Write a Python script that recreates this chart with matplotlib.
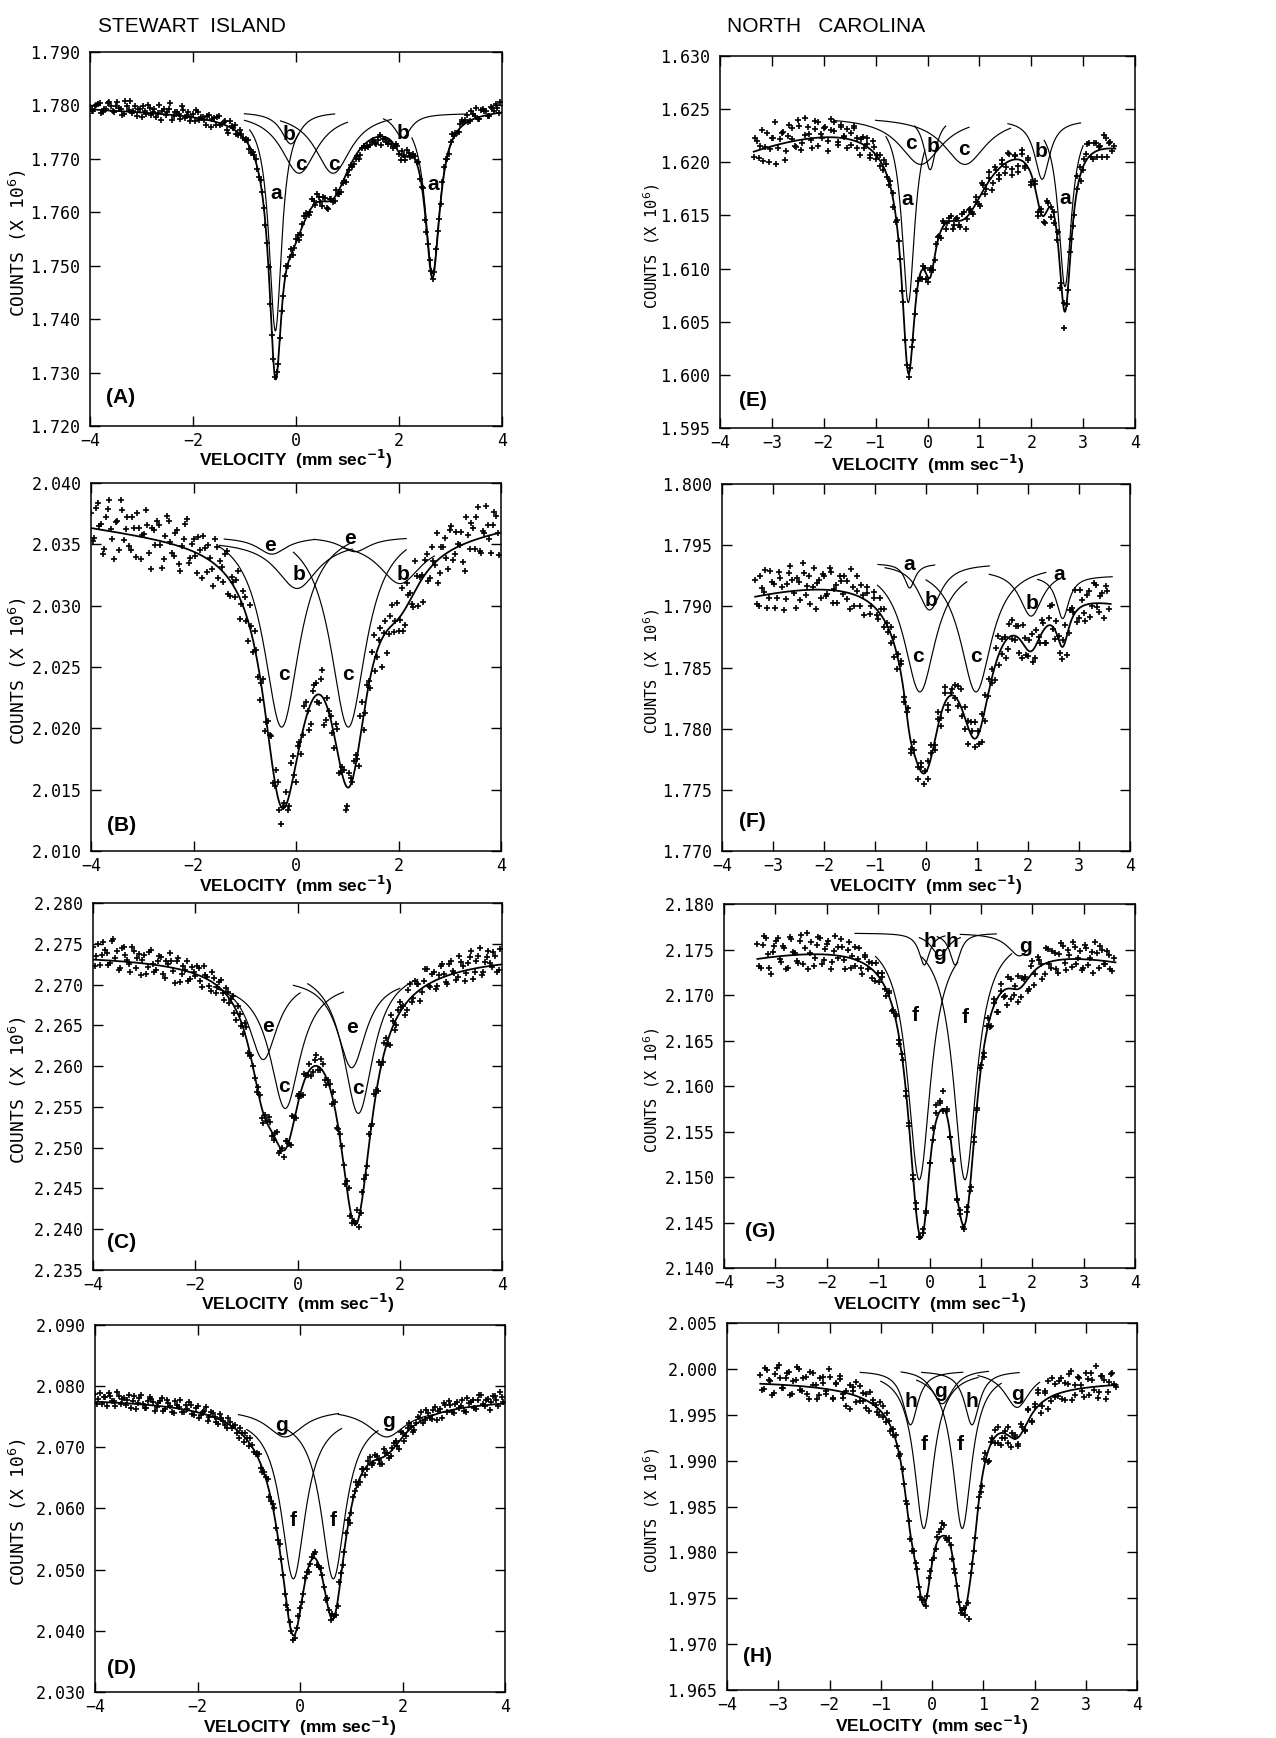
import numpy as np
import matplotlib
matplotlib.use("Agg")
import matplotlib.pyplot as plt

W, H = 1276, 1738
DPI = 100

SANS = ["Liberation Sans", "DejaVu Sans"]
MONO = ["DejaVu Sans Mono"]

# ---------------------------------------------------------------------------
# Spectra. Each component: (label, centre, depth, fwhm, drawn top, drawn from, drawn to)
# Components with an empty label only enter the envelope (broad background).
# Counts are in units of 10^6; residuals in units of 1e-4 (x 10^6 counts),
# one list per half of the folded spectrum.
# ---------------------------------------------------------------------------

V_LEFT = (-4.0, 4.0)
V_RIGHT = (-3.35, 3.62)

XTICKS_LEFT = [-4, -2, 0, 2, 4]
XTICKS_RIGHT = [-4, -3, -2, -1, 0, 1, 2, 3, 4]

# (A) Stewart Island
YTICKS_A = [1.720, 1.730, 1.740, 1.750, 1.760, 1.770, 1.780, 1.790]
BASE_A = (1.7788, 0.0, 0.00005)
COMPS_A = [
    ("a", -0.40, 0.0410, 0.30, 1.7788, -0.90, 0.05),
    ("b", -0.10, 0.0060, 0.45, 1.7788, -1.00, 0.75),
    ("c", 0.06, 0.0115, 0.85, 1.7788, -1.00, 1.00),
    ("c", 0.72, 0.0115, 0.85, 1.7788, -0.30, 1.85),
    ("b", 2.07, 0.0045, 0.40, 1.7785, 1.70, 3.30),
    ("a", 2.65, 0.0300, 0.34, 1.7785, 2.25, 3.05),
]
RESID_A1 = [
    5, -2, 9, 13, -4, 3, 16, -1, 10, 6, -7, 19, 4, -3, 12, 7, -9, 3, 15, -4,
    8, 1, -11, 10, 5, 22, -2, 7, -6, 11, 2, -8, 6, 14, -3, 4, -10, 9, 3, -5,
    13, -1, 8, -13, 5, 10, -4, 2, -2, 7, -7, 3, -3, 6, -1, 4, -5, 5, 9, -2,
    -4, 8, 3, -8, 7, -11, 4, 11, -6, 15, -3, 9, -9, 6, -14, 3, -7, -3, -11, -5,
    -8, -2, -10, -6, -12, -1, -7, -9, -4, -13, 3, -5, -8, -3, -10, 6, -2, 10, -6, 5,
    -1, 7, 13, -4, -18, 4, 8, -3, 9, -8, 12, -5, 6, 3, -2, 8, 5, 15, -1, 10,
    19, -4, 13, 7, -3, 11, 17, -1,
]
RESID_A2 = [
    -3, 7, 11, -6, 2, 14, 8, -2, 17, 4, -5, 10, 21, 1, -8, 6, 13, -3, 9, 2,
    -6, 16, 5, -1, 11, -9, 7, 3, 18, -4, 9, 1, -7, 12, 4, -2, 8, -12, 6, 10,
    -3, 5, -8, 11, 2, -5, 7, -1, 4, -6, 2, 5, -4, 3, -2, 6, -3, 1, -7, 4,
    7, -5, 10, -2, 6, -9, 12, 3, -5, 8, 16, -2, 7, -12, 4, -6, 9, -9, -2, -14,
    -4, -11, -6, -15, -3, -9, -12, -5, -10, -7, -16, -4, -11, -6, -2, 8, -9, 4, 11, -3,
    7, 2, -6, 15, -8, 5, -3, 10, -5, 6, 9, -7, 13, 2, -4, 11, 6, -1, 16, 4,
    -3, 12, 8, -2, 14, 5, 9, 20,
]

# (B) Stewart Island
YTICKS_B = [2.010, 2.015, 2.020, 2.025, 2.030, 2.035, 2.040]
BASE_B = (2.0358, 0.0, 0.00006)
COMPS_B = [
    ("e", -0.47, 0.0014, 0.70, 2.0356, -1.40, 0.35),
    ("e", 1.15, 0.0012, 0.70, 2.0356, 0.35, 2.15),
    ("b", 0.02, 0.0039, 1.00, 2.0353, -1.50, 1.10),
    ("b", 2.03, 0.0035, 1.00, 2.0353, 0.90, 2.70),
    ("c", -0.28, 0.0165, 0.85, 2.0366, -1.50, 1.10),
    ("c", 1.02, 0.0165, 0.85, 2.0366, -0.05, 2.15),
]
RESID_B1 = [
    12, -8, 21, 5, -15, 18, 2, -22, 9, 27, -5, 14, -12, 6, 19, -18, 3, 11, -25, 8,
    16, -3, -14, 22, 1, -9, 13, -20, 7, 24, -6, 10, -16, 4, 17, -11, 2, -19, 15, 6,
    -8, 20, -13, 3, 9, -17, 12, -4, 18, -10, 5, -21, 14, -2, 8, -12, 16, -6, 1, 11,
    -9, 19, -15, 4, -3, 13, -18, 7, 10, -7, 22, -14, 2, -5, 15, -11, 6, -20, 12, -1,
    9, -16, 18, -8, 3, 14, -12, 5, -23, 10, -4, 17, 1, -10, 21, -13, 7, -6, 24, -17,
    4, 12, -9, 16, -2, -19, 8, 13, -14, 20, -5, 2, 11, -22, 6, 15, -7, 26, -12, 3,
    9, -15, 18, 0,
]
RESID_B2 = [
    -10, 17, 3, -20, 11, 25, -6, 8, -14, 19, 4, -9, 15, -17, 7, 2, 23, -12, 9, -4,
    13, -22, 5, 18, -7, 10, -15, 1, 20, -11, 6, -3, 14, -18, 8, 12, -6, 21, -9, 3,
    16, -13, 5, -7, 19, -2, 11, -16, 6, 14, -10, 2, -19, 9, 17, -5, 12, -14, 4, -8,
    20, -3, 7, -12, 15, 1, -17, 10, -6, 13, -21, 8, 3, -11, 18, -4, 9, -15, 6, 11,
    -2, 16, -13, 7, -9, 22, -5, 12, 2, -18, 9, -7, 14, -3, -16, 19, 6, -11, 10, 4,
    -20, 15, -8, 3, 23, -12, 7, -4, 17, -9, 13, 1, -14, 21, -6, 10, 18, -10, 5, 25,
    -3, 8, 14, -18,
]

# (C) Stewart Island
YTICKS_C = [2.235, 2.240, 2.245, 2.250, 2.255, 2.260, 2.265, 2.270, 2.275, 2.280]
BASE_C = (2.2738, 0.0, 0.0)
COMPS_C = [
    ("", 0.80, 0.0040, 3.00, None, None, None),
    ("e", -0.67, 0.0100, 0.68, 2.2708, -1.65, 0.05),
    ("e", 1.06, 0.0110, 0.68, 2.2708, -0.08, 2.00),
    ("c", -0.24, 0.0157, 0.72, 2.2705, -1.55, 0.90),
    ("c", 1.19, 0.0180, 0.72, 2.2722, 0.20, 2.35),
]
RESID_C1 = [
    15, 4, -6, 22, 9, -3, 27, 12, -8, 18, 2, -12, 14, 6, -15, 10, -4, 17, -9, 5,
    11, -14, 3, 8, -18, 13, -5, 1, -11, 7, -2, 9, -13, 4, -7, 12, -10, 6, -3, 8,
    -6, 10, -12, 5, -8, 14, -4, 3, -9, 7, -11, 2, 9, -6, 13, -3, -8, 6, -12, 4,
    11, -5, 8, -2, -10, 7, -4, 12, -7, 3, -13, 9, -1, 6, -9, 15, -6, 2, -11, 8,
    -3, 12, -8, 5, 16, -4, 9, -12, 6, -7, 13, 2, -9, 18, -3, 10, -14, 7, 20, -5,
    11, -8, 15, 4, -10, 17, 1, -6, 12, -13, 9, 22, -4, 14, -9, 6, 18, -2, 11, -7,
]
RESID_C2 = [
    -8, 20, 6, 13, -5, 24, 3, -11, 16, 8, -2, 19, -7, 11, 4, -13, 15, 1, -6, 12,
    -10, 7, 17, -4, 9, -15, 5, 13, -8, 2, 10, -6, 14, 3, -12, 7, -1, 11, -9, 5,
    2, -7, 9, -4, 12, -10, 6, -2, 8, -13, 4, 11, -5, 7, -9, 3, 10, -4, 14, -7,
    5, -11, 2, 8, -6, 13, -3, 9, -8, 4, 11, -12, 6, -2, 10, -7, 3, 16, -5, 9,
    -10, 6, 14, -8, 2, 11, -5, 19, -9, 7, 3, -12, 13, -6, 15, 8, -4, 21, -2, 10,
    -11, 5, 17, -7, 13, 3, -9, 20, 6, -3, 15, -12, 9, 24, -6, 12, 4, 16, -8, 19,
]

# (D) Stewart Island
YTICKS_D = [2.030, 2.040, 2.050, 2.060, 2.070, 2.080, 2.090]
BASE_D = (2.0782, 0.0, 0.0)
COMPS_D = [
    ("", 0.25, 0.0050, 2.50, None, None, None),
    ("g", -0.29, 0.0045, 0.88, 2.0762, -1.20, 0.75),
    ("g", 1.69, 0.0045, 0.88, 2.0762, 0.75, 2.60),
    ("f", -0.13, 0.0269, 0.58, 2.0754, -1.04, 0.81),
    ("f", 0.65, 0.0269, 0.58, 2.0754, -0.27, 1.52),
]
RESID_D1 = [
    12, 5, -4, 9, 16, 2, -6, 11, 7, -3, 14, 4, -8, 10, 1, -5, 13, 6, -2, 8,
    -7, 12, 3, -9, 6, 15, -4, 2, 9, -6, 11, -3, 5, -10, 7, 1, -8, 4, -5, 9,
    -3, 6, -11, 2, 8, -7, 4, -2, 10, -6, 3, -9, 5, -4, 7, -1, -6, 4, -8, 3,
    6, -5, 2, -3, 7, -7, 4, -2, 9, -5, 1, -8, 6, -3, 10, -9, 3, -4, 8, -11,
    5, -6, 9, -2, -10, 4, -7, 3, 8, -12, 6, -4, 11, -8, 2, 7, -5, 13, -3, 9,
    -10, 6, 14, -2, 8, -6, 12, 3, -5, 15, 7, -3, 10, 18, -1, 9, 5, 13, -4, 11,
]
RESID_D2 = [
    -4, 14, 8, -6, 11, 3, 17, -2, 9, 5, -8, 12, 1, 15, -5, 7, 10, -9, 4, 13,
    -3, 6, -7, 11, 2, -5, 8, 14, -4, 6, -9, 3, 12, -2, 7, -6, 10, 1, -8, 5,
    2, -5, 8, -9, 4, 11, -3, 6, -7, 2, 9, -4, 12, -6, 3, -10, 7, 1, -5, 9,
    -2, 6, -8, 3, 11, -4, 5, -9, 2, 8, -6, 12, -3, 7, -10, 4, 9, -7, 3, -5,
    10, -3, 6, -9, 13, 2, -7, 8, -4, 11, -10, 5, 3, -8, 9, 15, -2, 7, -6, 12,
    4, -9, 10, 16, -3, 8, 1, 13, -7, 6, 11, -4, 17, 3, 9, -8, 14, 6, 19, 2,
]

# (E) North Carolina
YTICKS_E = [1.595, 1.600, 1.605, 1.610, 1.615, 1.620, 1.625, 1.630]
BASE_E = (1.6250, 0.0002, -0.00025)
COMPS_E = [
    ("", 0.60, 0.0040, 2.20, None, None, None),
    ("a", -0.37, 0.0175, 0.30, 1.6243, -0.80, -0.05),
    ("c", -0.13, 0.0045, 1.00, 1.6243, -1.80, 0.80),
    ("b", 0.05, 0.0050, 0.28, 1.6243, -0.25, 0.35),
    ("c", 0.72, 0.0045, 1.00, 1.6243, -1.00, 1.60),
    ("b", 2.21, 0.0056, 0.35, 1.6240, 1.55, 2.95),
    ("a", 2.65, 0.0157, 0.30, 1.6240, 2.25, 3.00),
]
RESID_E1 = [
    -5, 9, 3, -12, 14, -2, 7, -18, 5, 11, -8, 16, 2, -6, 13, -3, 20, 4, -9, 8,
    15, -1, 10, -4, 17, 6, -7, 12, 1, 9, -5, 14, 3, -11, 7, 2, -6, 10, -3, 5,
    -4, 8, -2, 3, -6, 4, -1, 5, -3, 2, -5, 1, -8, 3, -4, 6, -2, 4, -7, 2,
    -1, 5, -4, 3, -6, 7, -2, 4, -5, 1, -9, 6, -3, 8, -7, 2, -10, 5, -4, 7,
    -8, 3, -12, 6, -5, 9, -7, 2, -11, 4, -6, 8, -9, 3, -4, -14, 5, -2, 7, -6,
    4, 9, -3, 6, 12, -5, 8, 3, -7, 10, 5, -2,
]
RESID_E2 = [
    12, -7, 18, 1, -14, 8, 22, -3, 10, -16, 6, 13, -5, 19, -10, 4, 11, -2, 16, -8,
    3, 9, -13, 7, 14, -4, 10, 2, -9, 6, 12, -6, 4, -3, 8, -8, 5, 1, -5, 7,
    -2, 4, -6, 3, -1, 6, -4, 2, -7, 5, -2, 3, -5, 8, -3, 4, -1, 6, -6, 3,
    -8, 2, -4, 6, -10, 4, -2, 7, -5, 9, -7, 3, -12, 5, -6, 2, -9, 8, -14, 4,
    -6, 10, -3, 7, -9, 5, -13, 2, -8, 6, 1, -5, 9, -2, -16, 3, 8, -4, 11, -7,
    5, 14, -2, 9, -6, 3, 13, -8, 6, 2,
]

# (F) North Carolina
YTICKS_F = [1.770, 1.775, 1.780, 1.785, 1.790, 1.795, 1.800]
BASE_F = (1.7928, 0.0, -0.00015)
COMPS_F = [
    ("", 0.40, 0.0020, 1.50, None, None, None),
    ("a", -0.32, 0.0020, 0.25, 1.7935, -0.94, 0.17),
    ("b", 0.07, 0.0038, 0.55, 1.7935, -0.80, 1.24),
    ("c", -0.12, 0.0105, 0.75, 1.7935, -0.95, 0.80),
    ("c", 0.98, 0.0105, 0.75, 1.7935, 0.00, 2.35),
    ("b", 2.06, 0.0038, 0.55, 1.7930, 1.24, 2.60),
    ("a", 2.68, 0.0035, 0.30, 1.7925, 2.19, 3.65),
]
RESID_F1 = [
    14, -8, 6, 20, -3, 10, -12, 17, 4, -6, 15, 9, -14, 7, 22, -4, 11, 2, -16, 8,
    13, -5, 18, -10, 5, 12, -2, 9, -13, 6, 16, -7, 3, 11, -9, 7, -4, 13, -6, 2,
    -8, 5, -11, 9, -3, 7, -6, 10, -2, 4, -9, 6, 3, -7, 11, -4, 8, -10, 5, -1,
    12, -6, 9, -13, 4, 14, -8, 7, -11, 10, -5, 13, -9, 6, -14, 11, -3, 8, -12, 15,
    -6, 9, -10, 12, -4, 7, -13, 16, -2, 10, -8, 5, -15, 12, 3, -9, 14, -6, 8, -11,
    17, -3, 6, -12, 10,
]
RESID_F2 = [
    -6, 16, 3, -11, 19, 8, -4, 12, -15, 6, 21, -2, 10, -8, 14, 3, -12, 18, 5, -7,
    11, -3, 15, 1, -10, 8, 13, -5, 20, -9, 4, 10, -13, 7, -2, 12, -7, 5, 9, -4,
    6, -10, 3, 8, -5, 11, -8, 4, -12, 7, 2, -9, 10, -3, 6, -11, 13, -6, 2, 9,
    -4, 15, -10, 5, 11, -7, 3, -14, 12, -2, 8, -11, 16, -5, 4, -9, 13, -3, 10, -13,
    7, -4, 14, -9, 2, 11, -12, 6, 17, -7, 3, -10, 13, -4, 9, 18, -8, 5, -13, 11,
    -2, 15, -7, 8, 14, -4,
]

# (G) North Carolina
YTICKS_G = [2.140, 2.145, 2.150, 2.155, 2.160, 2.165, 2.170, 2.175, 2.180]
BASE_G = (2.1760, 0.0, -0.00015)
COMPS_G = [
    ("f", -0.20, 0.0271, 0.55, 2.1768, -1.05, 0.55),
    ("f", 0.69, 0.0271, 0.55, 2.1768, -0.15, 1.60),
    ("h", -0.10, 0.0035, 0.25, 2.1768, -1.45, 0.30),
    ("g", 0.20, 0.0025, 0.40, 2.1768, -0.20, 0.60),
    ("h", 0.50, 0.0035, 0.25, 2.1768, 0.15, 1.30),
    ("g", 1.75, 0.0025, 0.55, 2.1768, 0.60, 1.90),
]
RESID_G1 = [
    16, -10, 24, 4, -18, 12, 20, -6, 9, -14, 18, 2, -9, 22, 7, -16, 13, -4, 19, -11,
    6, 15, -8, 21, -2, 10, -13, 17, 3, -7, 14, -12, 8, 5, -9, 11, -5, 6, -8, 4,
    -3, 7, -6, 2, -4, 5, -7, 3, -2, 6, -5, 4, -3, 8, 12, 20, 6, -4, 3, -6,
    5, -2, 4, -7, 2, -3, 6, -9, 4, -12, 7, -15, 3, -8, -18, 11, -6, 14, -10, 5,
    -13, 9, -16, 12, 2, -11, 15, -7, 8, -14, 18, -4, 10, -9, 13, 1, -12, 16, -6, 9,
    20, -8, 12, -3, 7, -10,
]
RESID_G2 = [
    -8, 14, 22, -12, 6, 17, -3, 11, -15, 20, 3, -7, 15, -10, 24, 1, -13, 10, 18, -6,
    12, -16, 5, 9, 19, -4, 8, -11, 14, 2, -6, 10, -3, 7, -10, 4, 9, -2, 5, -6,
    3, -4, 6, -2, 4, -5, 8, -3, 2, -6, 5, 10, 16, 9, -2, 4, -3, 7, -5, 2,
    -4, 8, -6, 3, -10, 5, -8, 11, -13, 2, -16, 9, -7, 13, -11, 4, -14, 10, 6, -12,
    14, -5, 8, -15, 17, -2, 11, -9, 6, 15, -12, 4, 19, -6, 9, -10, 13, 2, -14, 8,
    16, -4, 11, -8, 5,
]

# (H) North Carolina
YTICKS_H = [1.965, 1.970, 1.975, 1.980, 1.985, 1.990, 1.995, 2.000, 2.005]
BASE_H = (1.9988, 0.0, 0.0)
COMPS_H = [
    ("", 0.25, 0.0030, 2.00, None, None, None),
    ("h", -0.42, 0.0059, 0.35, 1.9998, -1.40, 0.60),
    ("f", -0.16, 0.0172, 0.45, 1.9998, -1.00, 0.90),
    ("g", 0.20, 0.0038, 0.50, 2.0000, -0.60, 1.10),
    ("f", 0.59, 0.0172, 0.45, 1.9998, -0.30, 1.35),
    ("h", 0.78, 0.0059, 0.35, 1.9998, -0.20, 1.70),
    ("g", 1.66, 0.0040, 0.60, 1.9998, 0.90, 2.10),
]
RESID_H1 = [
    10, -6, 15, 3, -9, 18, 7, -3, 13, -11, 5, 20, -4, 9, -8, 16, 2, -12, 11, 6,
    -5, 14, -9, 8, 17, -2, -14, 10, 4, -7, 12, -3, 7, -10, 5, 2, -6, 8, -4, 3,
    -5, 6, -2, 4, -3, 5, -4, 2, -1, 3, -4, 6, 2, -3, 7, 14, -2, 4, -5, 3,
    -2, 5, -6, -30, 3, -4, 6, -8, 9, -12, 4, 7, -10, -6, 3, -8, 5, 2, -9, 6,
    -4, 11, -7, 3, 14, -11, 8, 19, -5, 12, -2, 16, -9, 7, 21, -6, 13, 4, -10, 9,
    15, -3, -13, 11, 6, -7, 12, 1,
]
RESID_H2 = [
    -7, 17, 4, -12, 11, 21, -3, 8, 14, -9, 6, 19, -5, 10, -13, 16, 3, -8, 12, -2,
    22, -10, 7, 13, -6, 2, -16, 9, 15, -4, 6, -8, 11, 2, -5, 9, -3, 7, -6, 4,
    -2, 5, -4, 3, -6, 2, 4, -3, 6, -1, 3, -5, 5, 9, 12, -2, 3, -4, 5, -2,
    6, -5, 3, -7, 4, -9, 7, -11, 2, -6, 8, -13, -5, 9, -10, 4, -7, 10, -3, 13,
    -8, 6, 17, -4, 10, -12, 20, -2, 14, -7, 9, 18, -11, 5, 12, -3, 16, -8, 8, 22,
    -6, 11, -14, 4, 13, -2,
]

# ---------------------------------------------------------------------------
# Layout: axes boxes in pixels (left, top, right, bottom), label placements
# ---------------------------------------------------------------------------

PANELS = [
    dict(tag="(A)", box=(90, 52, 502, 426), vr=V_LEFT, xt=XTICKS_LEFT, yt=YTICKS_A,
         base=BASE_A, comps=COMPS_A, resid=(RESID_A1, RESID_A2), xlab_dy=33,
         tagpos=(0.04, 0.075),
         letters=[("b", -0.14, 1.7745), ("c", 0.09, 1.7689), ("c", 0.74, 1.7689),
                  ("a", -0.38, 1.7636), ("b", 2.07, 1.7748), ("a", 2.66, 1.7652)]),
    dict(tag="(B)", box=(91, 483, 501, 851), vr=V_LEFT, xt=XTICKS_LEFT, yt=YTICKS_B,
         base=BASE_B, comps=COMPS_B, resid=(RESID_B1, RESID_B2), xlab_dy=34,
         tagpos=(0.04, 0.07),
         letters=[("e", -0.50, 2.0349), ("e", 1.06, 2.0355), ("b", 0.05, 2.0325),
                  ("b", 2.09, 2.0325), ("c", -0.24, 2.0244), ("c", 1.02, 2.0244)]),
    dict(tag="(C)", box=(93, 903, 502, 1270), vr=V_LEFT, xt=XTICKS_LEFT, yt=YTICKS_C,
         base=BASE_C, comps=COMPS_C, resid=(RESID_C1, RESID_C2), xlab_dy=33,
         tagpos=(0.035, 0.075),
         letters=[("e", -0.57, 2.2649), ("e", 1.06, 2.2647), ("c", -0.26, 2.2575),
                  ("c", 1.19, 2.2573)]),
    dict(tag="(D)", box=(95, 1325, 505, 1692), vr=V_LEFT, xt=XTICKS_LEFT, yt=YTICKS_D,
         base=BASE_D, comps=COMPS_D, resid=(RESID_D1, RESID_D2), xlab_dy=34,
         tagpos=(0.03, 0.065),
         letters=[("g", -0.36, 2.0736), ("g", 1.72, 2.0742), ("f", -0.13, 2.0581),
                  ("f", 0.65, 2.0581)]),
    dict(tag="(E)", box=(720, 56, 1135, 428), vr=V_RIGHT, xt=XTICKS_RIGHT, yt=YTICKS_E,
         base=BASE_E, comps=COMPS_E, resid=(RESID_E1, RESID_E2), xlab_dy=36,
         tagpos=(0.045, 0.075),
         letters=[("c", -0.32, 1.6218), ("b", 0.10, 1.6215), ("c", 0.71, 1.6212),
                  ("b", 2.18, 1.6210), ("a", -0.39, 1.6165), ("a", 2.65, 1.6166)]),
    dict(tag="(F)", box=(722, 484, 1130, 851), vr=V_RIGHT, xt=XTICKS_RIGHT, yt=YTICKS_F,
         base=BASE_F, comps=COMPS_F, resid=(RESID_F1, RESID_F2), xlab_dy=34,
         tagpos=(0.042, 0.08),
         letters=[("a", -0.33, 1.7934), ("b", 0.10, 1.7905), ("c", -0.16, 1.7859),
                  ("c", 0.98, 1.7859), ("b", 2.08, 1.7902), ("a", 2.61, 1.7926)]),
    dict(tag="(G)", box=(724, 904, 1135, 1268), vr=V_RIGHT, xt=XTICKS_RIGHT, yt=YTICKS_G,
         base=BASE_G, comps=COMPS_G, resid=(RESID_G1, RESID_G2), xlab_dy=35,
         tagpos=(0.05, 0.10),
         letters=[("h", 0.01, 2.1759), ("g", 0.19, 2.1744), ("h", 0.44, 2.1759),
                  ("g", 1.86, 2.1753), ("f", -0.28, 2.1677), ("f", 0.69, 2.1675)]),
    dict(tag="(H)", box=(727, 1323, 1137, 1690), vr=V_RIGHT, xt=XTICKS_RIGHT, yt=YTICKS_H,
         base=BASE_H, comps=COMPS_H, resid=(RESID_H1, RESID_H2), xlab_dy=35,
         tagpos=(0.04, 0.09),
         letters=[("h", -0.42, 1.99645), ("g", 0.16, 1.99755), ("h", 0.78, 1.99645),
                  ("g", 1.66, 1.99718), ("f", -0.16, 1.99173), ("f", 0.55, 1.99173)]),
]


def lorentz(v, center, depth, fwhm):
    return depth / (1.0 + (2.0 * (v - center) / fwhm) ** 2)


def envelope(v, base, comps):
    b0, b1, b2 = base
    y = b0 + b1 * v + b2 * v ** 2
    for _, center, depth, fwhm, *_ in comps:
        y = y - lorentz(v, center, depth, fwhm)
    return y


def channels(vr, n, half):
    # channel centres; the second half sits half a channel over
    step = (vr[1] - vr[0]) / n
    return vr[0] + step * (np.arange(n) + (0.5 if half else 0.0))


def minus(s):
    return s.replace("-", "\u2212")


def draw_panel(fig, p, right_col):
    l, t, r, b = p["box"]
    ax = fig.add_axes([l / W, 1 - b / H, (r - l) / W, (b - t) / H])

    for half, resid in enumerate(p["resid"]):
        v = channels(p["vr"], len(resid), half)
        counts = envelope(v, p["base"], p["comps"]) + np.asarray(resid) * 1e-4
        ax.plot(v, counts, ls="none", marker="+", ms=5, mew=1.2, color="black")

    vf = np.linspace(p["vr"][0], p["vr"][1], 800)
    ax.plot(vf, envelope(vf, p["base"], p["comps"]), color="black", lw=1.3)

    for label, center, depth, fwhm, top, lo, hi in p["comps"]:
        if not label:
            continue
        vc = np.linspace(lo, hi, 300)
        ax.plot(vc, top - lorentz(vc, center, depth, fwhm), color="black", lw=0.85)

    for letter, lx, ly in p["letters"]:
        ax.text(lx, ly, letter, ha="center", va="center", fontsize=15,
                fontweight="bold", family=SANS)

    ax.text(p["tagpos"][0], p["tagpos"][1], p["tag"], transform=ax.transAxes,
            ha="left", va="center", fontsize=15, fontweight="bold", family=SANS)

    ax.set_xlim(-4, 4)
    ax.set_ylim(p["yt"][0], p["yt"][-1])
    ax.set_xticks(p["xt"])
    ax.set_xticklabels([minus(f"{x:d}") for x in p["xt"]])
    ax.set_yticks(p["yt"])
    ax.set_yticklabels([f"{y:.3f}" for y in p["yt"]])
    ax.tick_params(direction="in", top=True, right=True, length=7, width=1.0,
                   labelsize=12)
    ax.tick_params(axis="x", pad=4)
    ax.tick_params(axis="y", pad=7)
    for lab in ax.get_xticklabels() + ax.get_yticklabels():
        lab.set_family(MONO)
    for s in ax.spines.values():
        s.set_linewidth(1.1)

    # axis titles
    fig.text((l + r) / 2 / W, 1 - (b + p["xlab_dy"]) / H,
             r"VELOCITY  (mm sec$^{\mathbf{-1}}$)", ha="center", va="center",
             fontsize=12.5, fontweight="bold", family=SANS)
    ylab_x = 652 if right_col else 18
    fig.text(ylab_x / W, 1 - ((t + b) / 2 + 4) / H, r"COUNTS (X 10$^6$)",
             rotation=90, ha="center", va="center",
             fontsize=11 if right_col else 13, family=MONO)
    return ax


def main():
    fig = plt.figure(figsize=(W / DPI, H / DPI), dpi=DPI)
    fig.patch.set_facecolor("white")

    for i, p in enumerate(PANELS):
        draw_panel(fig, p, right_col=i >= 4)

    fig.text(192 / W, 1 - 27 / H, "STEWART  ISLAND", ha="center", va="center",
             fontsize=15, family=SANS)
    fig.text(826 / W, 1 - 27 / H, "NORTH   CAROLINA", ha="center", va="center",
             fontsize=15, family=SANS)

    fig.savefig("out.png", dpi=DPI, facecolor="white")
    plt.close(fig)


if __name__ == "__main__":
    main()
